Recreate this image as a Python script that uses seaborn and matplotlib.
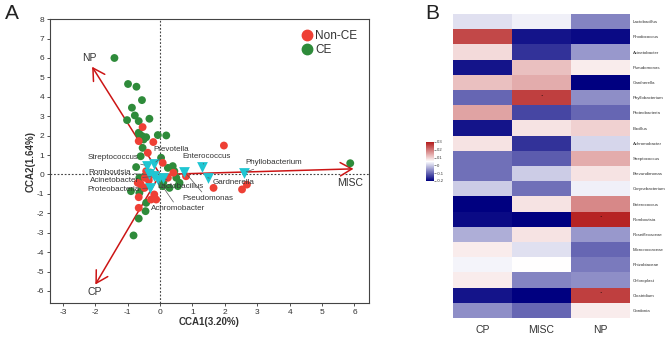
import numpy as np
import pandas as pd
import matplotlib
matplotlib.use("Agg")
import matplotlib.pyplot as plt
from matplotlib.colors import LinearSegmentedColormap
from matplotlib.lines import Line2D
import seaborn as sns

sns.set_theme(style="white")
plt.rcParams['font.family'] = ['Liberation Sans', 'DejaVu Sans']
plt.rcParams['axes.unicode_minus'] = False

# ---------------- Panel A data ----------------
ce_x = [-1.41, -0.99, -0.73, -0.56, -0.87, -0.78, -0.66, -0.33, -1.02, -0.66, -0.56, -0.43,
        -0.51, -0.07, 0.19, -0.54, -0.6, 0.03, -0.74, 0.24, 0.39, 0.44, 0.5, 0.6, 0.55,
        0.08, 0.29, -0.64, -0.9, -0.64, -0.43, -0.45, -0.66, -0.82, 5.87, -0.48, -0.3,
        -0.55, 0.1, -0.64]
ce_y = [6.0, 4.66, 4.52, 3.83, 3.44, 3.04, 2.75, 2.87, 2.80, 2.15, 1.98, 1.92,
        1.8, 2.03, 2.01, 1.37, 0.94, 0.86, 0.38, 0.34, 0.43, 0.17, -0.17, -0.43, -0.6,
        -0.6, -0.69, -0.17, -0.86, -0.95, -1.46, -1.89, -2.27, -3.14, 0.58, -0.1, 0.1,
        -0.7, -0.4, 2.06]
nonce_x = [-0.54, -0.21, -0.66, -0.38, 0.08, 1.97, 0.41, 1.65, 2.53, 2.68, -0.66, -0.66,
           -0.18, -0.12, -0.47, -0.69, -0.43, -0.23, 0.24, -0.48, 0.8, -0.28, -0.35, -0.6]
nonce_y = [2.44, 1.67, 1.72, 1.12, 0.6, 1.49, 0.09, -0.69, -0.77, -0.52, -1.17, -1.72,
           -1.03, -1.29, -0.17, -0.43, 0.17, 0.0, -0.17, -0.69, -0.09, -1.29, -0.3, -0.5]

species = ["Prevotella", "Streptococcus", "Enterococcus", "Phyllobacterium", "Romboutsia",
           "Acinetobacter", "Proteobacteria", "Lactobacillus", "Gardnerella", "Pseudomonas",
           "Achromobacter"]
sp_x = [-0.2, -0.4, 1.3, 2.58, -0.33, -0.2, -0.3, 0.08, 1.47, 0.75, -0.07]
sp_y = [0.55, 0.45, 0.4, 0.09, 0.0, -0.1, -0.7, -0.17, -0.17, 0.15, -0.26]

env = ["NP", "CP", "MISC"]
env_x = [-2.1, -2.0, 5.97]
env_y = [5.55, -5.67, 0.29]

# ---------------- Panel B data ----------------
genera = ["Lactobacillus", "Rhodococcus", "Acinetobacter", "Pseudomonas", "Gardnerella",
          "Phyllobacterium", "Proteobacteria", "Bacillus", "Achromobacter", "Streptococcus",
          "Brevundimonas", "Corynebacterium", "Enterococcus", "Romboutsia", "Roseiflexaceae",
          "Micrococcaceae", "Rhizobiaceae", "Chloroplast", "Clostridium", "Gordonia"]
groups = ["CP", "MISC", "NP"]
cp_vals = [0.02, 0.25, 0.09, -0.18, 0.12, -0.10, 0.15, -0.18, 0.08, -0.09,
           -0.09, 0.00, -0.20, -0.19, -0.03, 0.07, 0.04, 0.07, -0.18, -0.06]
misc_vals = [0.035, -0.18, -0.15, 0.12, 0.14, 0.26, -0.13, 0.08, -0.15, -0.11,
             0.0, -0.09, 0.08, -0.20, 0.08, 0.02, 0.05, -0.07, -0.20, -0.10]
np_vals = [-0.07, -0.19, -0.05, 0.07, -0.20, -0.06, -0.10, 0.10, 0.01, 0.14,
           0.08, 0.035, 0.18, 0.29, -0.05, -0.10, -0.08, -0.06, 0.26, 0.07]
sig_marks = {("Phyllobacterium", "MISC"), ("Romboutsia", "NP"), ("Clostridium", "NP")}

# ---------------- Figure ----------------
fig = plt.figure(figsize=(6.69, 3.42), dpi=100)
axA = fig.add_axes([0.0747, 0.114, 0.4769, 0.830])

red = "#EE4035"
green = "#2E8B3A"
cyan = "#1FC6D2"
arrow_c = "#CC1515"

df_pts = pd.DataFrame({
    "x": ce_x + nonce_x,
    "y": ce_y + nonce_y,
    "group": ["CE"] * len(ce_x) + ["Non-CE"] * len(nonce_x),
})

axA.axhline(0, color="#444444", lw=0.8, ls=(0, (1.6, 1.6)), zorder=1)
axA.axvline(0, color="#444444", lw=0.8, ls=(0, (1.6, 1.6)), zorder=1)

for name, ex, ey in zip(env, env_x, env_y):
    axA.annotate("", xy=(ex, ey), xytext=(0, 0),
                 arrowprops=dict(arrowstyle="->,head_length=0.7,head_width=0.4",
                                 color=arrow_c, lw=1.1, shrinkA=0, shrinkB=0), zorder=2)
label_off = {"NP": (-0.08, 0.45), "CP": (-0.03, -0.4), "MISC": (-0.1, -0.72)}
for name, ex, ey in zip(env, env_x, env_y):
    dx, dy = label_off[name]
    axA.text(ex + dx, ey + dy, name, fontsize=7.5, color="#333333", ha="center", va="center")

sns.scatterplot(data=df_pts, x="x", y="y", hue="group", hue_order=["Non-CE", "CE"],
                palette={"Non-CE": red, "CE": green}, s=32, linewidth=0, ax=axA,
                zorder=3, legend=False)

sp_df = pd.DataFrame({"x": sp_x, "y": sp_y, "sp": species})
sns.scatterplot(data=sp_df, x="x", y="y", marker="v", color=cyan, s=60, linewidth=0,
                ax=axA, zorder=4, legend=False)

sp_label = {
    "Prevotella": (-0.2, 1.3, "left"),
    "Streptococcus": (-0.68, 0.88, "right"),
    "Enterococcus": (0.68, 0.92, "left"),
    "Phyllobacterium": (2.62, 0.62, "left"),
    "Romboutsia": (-0.9, 0.09, "right"),
    "Acinetobacter": (-0.64, -0.29, "right"),
    "Proteobacteria": (-0.64, -0.78, "right"),
    "Lactobacillus": (-0.07, -0.64, "left"),
    "Gardnerella": (1.62, -0.43, "left"),
    "Pseudomonas": (0.68, -1.25, "left"),
    "Achromobacter": (-0.28, -1.77, "left"),
}
for sp, x, y in zip(species, sp_x, sp_y):
    lx, ly, ha = sp_label[sp]
    axA.annotate(sp, xy=(x, y), xytext=(lx, ly), fontsize=5.8, color="#333333",
                 ha=ha, va="center", zorder=5,
                 arrowprops=dict(arrowstyle="-", color="#555555", lw=0.5,
                                 shrinkA=0, shrinkB=2))

axA.set_xlim(-3.4, 6.45)
axA.set_ylim(-6.62, 8)
axA.set_xticks(range(-3, 7))
axA.set_yticks(range(-6, 9))
axA.tick_params(axis="both", labelsize=6, colors="#333333", length=2.5, width=0.6,
                direction="out", bottom=True, left=True, pad=1.5)
axA.set_xlabel("CCA1(3.20%)", fontsize=7, fontweight="bold", color="#333333", labelpad=1)
axA.set_ylabel("CCA2(1.64%)", fontsize=7, fontweight="bold", color="#333333", labelpad=1)
for s in axA.spines.values():
    s.set_color("#444444")
    s.set_linewidth(0.8)

handles = [Line2D([], [], marker="o", ls="", color=red, markersize=7.5),
           Line2D([], [], marker="o", ls="", color=green, markersize=7.5)]
axA.legend(handles, ["Non-CE", "CE"], loc="upper right", bbox_to_anchor=(0.985, 0.985),
           frameon=False, fontsize=8.5, handletextpad=0.1, labelspacing=0.15,
           borderaxespad=0.2, handlelength=1.2, labelcolor="#333333")

fig.text(0.007, 0.945, "A", fontsize=15, color="#222222")
fig.text(0.636, 0.945, "B", fontsize=15, color="#222222")

# ---------------- Panel B ----------------
axB = fig.add_axes([0.677, 0.070, 0.265, 0.889])
cax = fig.add_axes([0.637, 0.471, 0.011, 0.114])
mat = pd.DataFrame({"CP": cp_vals, "MISC": misc_vals, "NP": np_vals}, index=genera)
annot = pd.DataFrame([["." if (g, c) in sig_marks else "" for c in groups] for g in genera],
                     index=genera, columns=groups)
cmap = LinearSegmentedColormap.from_list("bwr2", ["#000080", "#FFFFFF", "#B31B1B"])
sns.heatmap(mat, ax=axB, cmap=cmap, vmin=-0.2, vmax=0.3, cbar_ax=cax,
            annot=annot, fmt="", annot_kws={"fontsize": 6, "color": "black", "va": "bottom"},
            xticklabels=True, yticklabels=True,
            cbar_kws={"ticks": [-0.2, -0.1, 0, 0.1, 0.2, 0.3]})
axB.yaxis.tick_right()
axB.set_yticks(np.arange(len(genera)) + 0.5)
axB.set_yticklabels(genera, rotation=0, fontsize=3.2, color="#333333")
axB.set_xticklabels(groups, fontsize=7.5, color="#333333")
axB.tick_params(axis="both", length=0, pad=2)
axB.tick_params(axis="x", pad=5)
axB.set_xlabel("")
axB.set_ylabel("")
cax.tick_params(labelsize=3, length=1.5, width=0.4, pad=1, colors="#333333")
cax.set_yticklabels(["-0.2", "-0.1", "0", "0.1", "0.2", "0.3"])

fig.savefig("out.png", dpi=100)
